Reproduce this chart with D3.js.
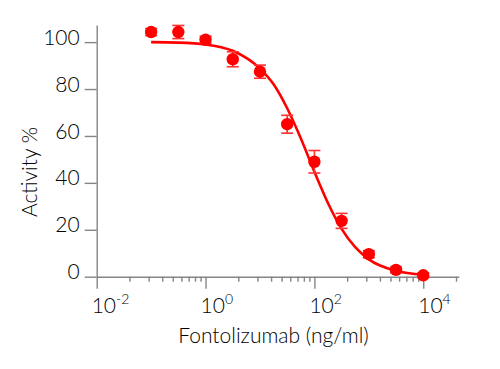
<!DOCTYPE html>
<html>
<head>
<meta charset="utf-8">
<script src="https://cdn.jsdelivr.net/npm/d3@7"></script>
<style>
  html, body { margin: 0; padding: 0; background: #fff; }
  svg { display: block; }
  text { font-family: Lato, "Open Sans", sans-serif; font-weight: 300; fill: #000; }
</style>
</head>
<body>
<svg id="chart" width="500" height="369"></svg>
<script>
// Data
const concentration = [0.1, 0.316, 1, 3.16, 10, 31.6, 100, 316, 1000, 3162, 10000]; // ng/ml
const activity      = [104.3, 104.3, 101.0, 92.7, 87.4, 65.0, 49.0, 23.8, 9.6, 2.9, 0.6]; // %
const activityErr   = [1.5, 2.8, 1.5, 3.2, 2.8, 3.8, 4.8, 3.2, 1.5, 1.2, 1.0];
// Fitted curve, points
const fitConc = [0.1, 0.316, 1, 3.16, 10, 17.8, 31.6, 56.2, 100, 178, 316, 562, 1000, 3162, 10000];
const fitAct  = [100, 99.8, 99.0, 96.3, 88.7, 82.0, 71.8, 59.0, 44.7, 31.3, 20.4, 12.6, 7.4, 2.5, 0.8];
// Axis ticks
const yTicks = [0, 20, 40, 60, 80, 100];
const xMajorTicks = [0.01, 1, 100, 10000];
const xMajorExp = ["-2", "0", "2", "4"];
const xTitle = "Fontolizumab (ng/ml)";
const yTitle = "Activity %";

const svg = d3.select("#chart");
const red = "#ff0000";
const axisColor = "#858585";
const fs = 21;

const x = d3.scaleLog().domain([0.01, 45000]).range([96.7, 458.8]);
const y = d3.scaleLinear().domain([0, 107.3]).range([276.7, 25]);

// minor ticks: k^2 subdivisions within each two-decade major interval
const xMinorTicks = [];
[-2, 0, 2, 4].forEach(e => {
  for (let k = 2; k <= 9; k++) {
    const v = Math.pow(10, e) * k * k;
    if (v <= 45000) xMinorTicks.push(v);
  }
});

// Y axis
const gy = svg.append("g").attr("transform", "translate(96.7,0)")
  .call(d3.axisLeft(y).tickValues(yTicks).tickSize(12).tickSizeOuter(0).tickPadding(5));
gy.selectAll("text").attr("font-size", fs).attr("dy", "0.1em")
  .style("font-family", "Lato, sans-serif").style("font-weight", 300).attr("fill", "#000");

// X axis major
const gx = svg.append("g").attr("transform", "translate(0,276.7)")
  .call(d3.axisBottom(x).tickValues(xMajorTicks).tickSize(12).tickSizeOuter(0).tickFormat(""));
// X axis minor
const gxm = svg.append("g").attr("transform", "translate(0,276.7)")
  .call(d3.axisBottom(x).tickValues(xMinorTicks).tickSize(5).tickSizeOuter(0).tickFormat(""));
gxm.select(".domain").remove();

[gy, gx, gxm].forEach(g => {
  g.selectAll(".domain, line").attr("stroke", axisColor).attr("stroke-width", 1.4);
});

// X tick labels with superscript exponent
xMajorTicks.forEach((v, i) => {
  const t = svg.append("text")
    .attr("x", x(v) - 5)
    .attr("y", 313.3)
    .attr("font-size", fs);
  t.append("tspan").text("10");
  t.append("tspan").attr("font-size", 14).attr("dy", -9.5).text(xMajorExp[i]);
});

// Axis titles
svg.append("text")
  .attr("x", 273.5).attr("y", 342.7)
  .attr("text-anchor", "middle").attr("font-size", fs)
  .text(xTitle);
svg.append("text")
  .attr("transform", "translate(36.5,172) rotate(-90)")
  .attr("text-anchor", "middle").attr("font-size", fs)
  .text(yTitle);

// Fitted curve
const fitData = fitConc.map((c, i) => [c, fitAct[i]]);
svg.append("path")
  .datum(fitData)
  .attr("fill", "none")
  .attr("stroke", red)
  .attr("stroke-width", 2.6)
  .attr("d", d3.line().x(d => x(d[0])).y(d => y(d[1])).curve(d3.curveMonotoneX));

// Error bars
const pts = concentration.map((c, i) => ({c, v: activity[i], e: activityErr[i]}));
const eb = svg.append("g").attr("stroke", "#ff3030").attr("stroke-width", 1.6);
pts.forEach(p => {
  const cx = x(p.c);
  eb.append("line").attr("x1", cx).attr("x2", cx).attr("y1", y(p.v - p.e)).attr("y2", y(p.v + p.e));
  eb.append("line").attr("x1", cx - 6).attr("x2", cx + 6).attr("y1", y(p.v - p.e)).attr("y2", y(p.v - p.e));
  eb.append("line").attr("x1", cx - 6).attr("x2", cx + 6).attr("y1", y(p.v + p.e)).attr("y2", y(p.v + p.e));
});

// Points
svg.append("g").selectAll("circle")
  .data(pts)
  .join("circle")
  .attr("cx", d => x(d.c))
  .attr("cy", d => y(d.v))
  .attr("r", 6.2)
  .attr("fill", red);
</script>
</body>
</html>
